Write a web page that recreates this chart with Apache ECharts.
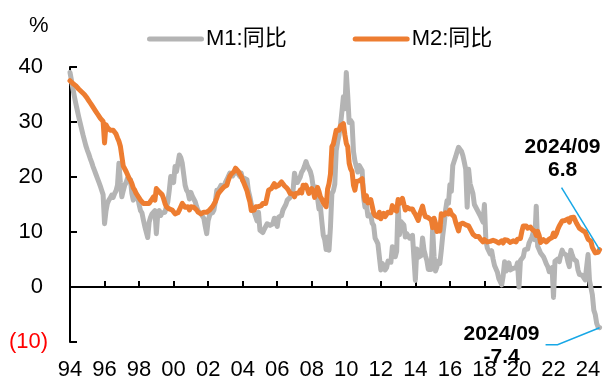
<!DOCTYPE html>
<html>
<head>
<meta charset="utf-8">
<title>M1 / M2 同比</title>
<script src="https://cdn.jsdelivr.net/npm/echarts@6/dist/echarts.min.js"></script>
<style>
  html, body { margin: 0; padding: 0; background: #fff; }
  #chart { width: 604px; height: 385px; }
</style>
</head>
<body>
<div id="chart"></div>
<script>
// Monthly series, January 1994 through September 2024 (% y/y)
const startYear = 1994;

const seriesNames = ['M1:同比', 'M2:同比'];

const m1 = [
  39.0, 37.6, 36.1, 34.7, 33.4, 32.2, 31.0, 29.9, 28.8, 27.7, 26.7, 25.7, // 1994
  24.9, 24.2, 23.4, 22.7, 21.9, 21.2, 20.5, 19.8, 19.1, 18.4, 17.6, 16.8, // 1995
  11.5, 13.8, 15.2, 15.8, 16.2, 16.7, 16.3, 17.0, 17.5, 18.5, 22.5, 19.0, // 1996
  16.4, 17.5, 18.5, 19.0, 19.8, 20.1, 19.5, 17.0, 15.8, 16.5, 17.0, 16.5, // 1997
  15.0, 13.9, 13.5, 12.2, 11.0, 10.9,  9.0, 11.8, 12.7, 13.3, 13.5, 13.9, // 1998
   9.7, 13.3, 13.9, 13.0, 13.5, 13.3, 13.6, 14.6, 15.5, 17.6, 20.1, 19.4, // 1999
  19.0, 21.9, 21.0, 22.5, 24.0, 23.5, 22.5, 20.5, 18.5, 17.6, 17.2, 16.0, // 2000
  17.2, 16.5, 16.4, 15.5, 14.6, 13.9, 13.6, 13.3, 13.0, 12.5, 11.0,  9.7, // 2001
  12.1, 13.0, 13.9, 13.5, 14.0, 15.5, 17.6, 17.0, 18.0, 18.5, 18.8, 18.3, // 2002
  19.0, 19.5, 20.1, 20.7, 20.5, 20.2, 20.5, 21.0, 21.3, 20.5, 20.1, 20.7, // 2003
  19.4, 19.8, 20.1, 19.5, 17.5, 16.4, 15.0, 14.0, 13.6, 13.3, 12.0, 13.6, // 2004
  10.3, 10.3,  9.9, 10.5, 11.0, 11.5, 11.5, 11.2, 11.0, 11.5, 12.5, 12.7, // 2005
  11.0, 12.7, 12.5, 13.0, 14.0, 13.9, 15.0, 15.8, 16.0, 16.3, 16.5, 17.5, // 2006
  20.7, 19.5, 19.0, 19.5, 20.0, 20.9, 21.3, 22.0, 22.8, 22.0, 22.2, 21.0, // 2007
  20.0, 18.2, 18.3, 18.2, 18.0, 14.2, 14.6, 11.9,  9.4,  8.6,  6.8,  9.1, // 2008
   6.7, 10.9, 17.0, 17.5, 18.7, 24.8, 26.4, 27.7, 29.5, 32.0, 34.6, 32.4, // 2009
  39.0, 34.9, 29.9, 30.3, 29.9, 24.6, 22.9, 21.9, 20.9, 22.1, 22.1, 21.2, // 2010
  16.3, 14.5, 15.0, 12.9, 12.7, 13.1, 11.6, 11.2,  8.9,  8.4,  7.8,  7.9, // 2011
   3.1,  4.3,  4.4,  3.1,  3.5,  4.7,  4.6,  4.5,  7.3,  6.1,  5.5,  6.5, // 2012
  15.3,  9.5, 11.9, 11.9, 11.3,  9.1,  9.7,  9.9,  8.9,  8.9,  9.4,  9.3, // 2013
   1.2,  6.9,  5.4,  5.3,  5.7,  8.9,  6.7,  5.7,  4.8,  3.2,  3.2,  3.2, // 2014
  10.6,  5.6,  2.9,  3.7,  4.7,  4.3,  6.6,  9.3, 11.4, 14.0, 15.7, 15.2, // 2015
  18.6, 17.4, 22.1, 22.9, 23.7, 24.6, 25.4, 25.3, 24.7, 23.9, 22.7, 21.4, // 2016
  14.5, 21.4, 18.8, 18.5, 17.0, 15.0, 15.3, 14.0, 14.0, 13.0, 12.7, 11.8, // 2017
  15.0,  8.5,  7.1,  7.2,  6.0,  6.6,  5.1,  3.9,  4.0,  2.7,  1.5,  1.5, // 2018
   0.4,  2.0,  4.6,  2.9,  3.4,  4.4,  3.1,  3.4,  3.4,  3.3,  3.5,  4.4, // 2019
   0.0,  4.8,  5.0,  5.5,  6.8,  6.5,  6.9,  8.0,  8.1,  9.1, 10.0,  8.6, // 2020
  14.7,  7.4,  7.1,  6.2,  6.1,  5.5,  4.9,  4.2,  3.7,  2.8,  3.0,  3.5, // 2021
  -1.9,  4.7,  4.7,  5.1,  4.6,  5.8,  6.7,  6.1,  6.4,  5.8,  4.6,  3.7, // 2022
   6.7,  5.8,  5.1,  5.3,  4.7,  3.1,  2.3,  2.2,  2.1,  1.9,  1.3,  1.3, // 2023
   5.9,  1.2,  1.1, -1.4, -4.2, -5.0, -6.6, -7.3, -7.4                    // 2024
];

const m2 = [
  37.5, 37.2, 37.0, 36.8, 36.6, 36.3, 36.0, 35.8, 35.5, 35.2, 35.0, 34.7, // 1994
  34.3, 33.9, 33.5, 33.1, 32.7, 32.3, 31.9, 31.5, 31.1, 30.7, 30.4, 30.1, // 1995
  26.2, 29.5, 29.0, 28.8, 28.5, 28.3, 28.5, 28.3, 27.8, 27.1, 26.5, 25.6, // 1996
  25.3, 22.0, 21.9, 21.0, 20.7, 19.8, 19.4, 18.8, 18.0, 17.6, 17.0, 17.3, // 1997
  16.2, 15.8, 15.5, 15.2, 15.0, 15.2, 14.9, 15.2, 15.6, 16.0, 16.4, 15.8, // 1998
  17.9, 17.6, 17.3, 17.3, 16.8, 16.1, 15.2, 14.6, 14.5, 14.2, 14.0, 14.0, // 1999
  13.8, 13.3, 13.3, 13.5, 14.0, 14.6, 15.2, 14.9, 14.5, 14.3, 14.6, 14.0, // 2000
  14.6, 14.3, 14.5, 14.3, 14.0, 13.6, 13.5, 13.3, 13.3, 13.6, 13.9, 13.6, // 2001
  13.6, 14.0, 14.3, 14.6, 14.6, 15.5, 16.2, 17.0, 17.2, 17.6, 17.9, 18.2, // 2002
  17.9, 18.5, 19.4, 20.1, 20.5, 20.8, 21.0, 21.6, 21.3, 21.0, 20.5, 20.1, // 2003
  19.4, 18.8, 18.5, 17.5, 16.4, 15.5, 13.9, 14.2, 14.0, 14.6, 14.3, 14.6, // 2004
  14.6, 14.8, 15.2, 15.2, 15.2, 15.5, 17.6, 17.8, 17.9, 18.2, 18.8, 18.2, // 2005
  18.2, 18.5, 18.8, 19.1, 19.0, 18.4, 18.2, 17.9, 17.5, 17.0, 16.8, 16.9, // 2006
  16.4, 17.0, 17.3, 17.1, 17.6, 17.1, 18.5, 18.1, 18.5, 18.5, 17.0, 16.7, // 2007
  17.9, 17.5, 16.3, 16.9, 18.1, 17.4, 16.4, 16.0, 15.3, 15.0, 14.6, 17.8, // 2008
  18.8, 20.5, 25.5, 26.0, 25.7, 28.5, 28.4, 28.5, 29.3, 29.4, 29.7, 27.7, // 2009
  26.1, 25.5, 22.5, 21.5, 21.0, 18.5, 17.6, 19.2, 19.0, 19.3, 19.5, 19.7, // 2010
  17.2, 15.7, 16.6, 15.3, 15.1, 15.9, 14.7, 13.5, 13.0, 12.9, 12.7, 13.6, // 2011
  12.4, 13.0, 13.4, 12.8, 13.2, 13.6, 13.9, 13.5, 14.8, 14.1, 13.9, 13.8, // 2012
  15.9, 15.2, 15.7, 16.1, 15.8, 14.0, 14.5, 14.7, 14.2, 14.3, 14.2, 13.6, // 2013
  13.2, 13.3, 12.1, 13.2, 13.4, 14.7, 13.5, 12.8, 12.9, 12.6, 12.3, 12.2, // 2014
  10.8, 12.5, 11.6, 10.1, 10.8, 10.2, 13.3, 13.3, 13.1, 13.5, 13.7, 13.3, // 2015
  14.0, 13.3, 13.4, 12.8, 11.8, 11.8, 10.2, 11.4, 11.5, 11.6, 11.4, 11.3, // 2016
  11.3, 11.1, 10.6, 10.5,  9.6,  9.4,  9.2,  8.9,  9.2,  8.8,  9.1,  8.2, // 2017
   8.6,  8.8,  8.2,  8.3,  8.3,  8.0,  8.5,  8.2,  8.3,  8.0,  8.0,  8.1, // 2018
   8.4,  8.0,  8.6,  8.5,  8.5,  8.5,  8.1,  8.2,  8.4,  8.4,  8.2,  8.7, // 2019
   8.4,  8.8, 10.1, 11.1, 11.1, 11.1, 10.7, 10.4, 10.9, 10.5, 10.7, 10.1, // 2020
   9.4, 10.1,  9.4,  8.1,  8.3,  8.6,  8.3,  8.2,  8.3,  8.7,  8.5,  9.0, // 2021
   9.8,  9.2,  9.7, 10.5, 11.1, 11.4, 12.0, 12.2, 12.1, 11.8, 12.4, 11.8, // 2022
  12.6, 12.9, 12.7, 12.4, 11.6, 11.3, 10.7, 10.6, 10.3, 10.3, 10.0,  9.7, // 2023
   8.7,  8.7,  8.3,  7.2,  7.0,  6.2,  6.3,  6.3,  6.8                    // 2024
];

// Axis ticks and their labels
const xTickYears  = [1994, 1996, 1998, 2000, 2002, 2004, 2006, 2008, 2010, 2012, 2014, 2016, 2018, 2020, 2022, 2024];
const xTickLabels = ['94', '96', '98', '00', '02', '04', '06', '08', '10', '12', '14', '16', '18', '20', '22', '24'];
const yTicks = [-10, 0, 10, 20, 30, 40];

const lastPeriod = '2024/09';

const FONT = 'Arial, "Liberation Sans", "Noto Sans CJK SC", sans-serif';
const GREY = '#B4B4B4';
const ORANGE = '#ED7D31';
const LEADER = '#17A7E6';

// month index -> decimal year on the value axis
function toPoints(values) {
  return values.map((v, i) => [startYear + i / 12, v]);
}

const chart = echarts.init(document.getElementById('chart'), null, { renderer: 'canvas' });

const option = {
  animation: false,
  backgroundColor: '#ffffff',
  textStyle: { fontFamily: FONT, color: '#000' },
  title: {
    text: '%',
    left: 24,
    top: 10,
    textStyle: { fontFamily: FONT, fontSize: 22, fontWeight: 'normal', color: '#000' }
  },
  legend: {
    left: 142,
    top: 23,
    itemWidth: 57,
    itemHeight: 5,
    itemGap: 66,
    icon: 'path://M2.5,0H54.5A2.5,2.5,0,0,1,54.5,5H2.5A2.5,2.5,0,0,1,2.5,0Z',
    textStyle: { fontFamily: FONT, fontSize: 22, color: '#000', padding: [0, 0, 0, -3] },
    data: seriesNames
  },
  grid: {
    left: 70,
    right: 3,
    top: 67,
    bottom: 43,
    containLabel: false,
    outerBoundsMode: 'none'
  },
  xAxis: [
    {
      // axis line and ticks, drawn along zero
      type: 'value',
      min: 1994,
      max: 2024.75,
      interval: 2,
      axisLine: { show: true, onZero: true, lineStyle: { color: '#000', width: 2 } },
      axisTick: { show: true, inside: true, length: 6, customValues: xTickYears, lineStyle: { color: '#000', width: 2 } },
      axisLabel: { show: false },
      splitLine: { show: false }
    },
    {
      // year labels along the bottom edge
      type: 'value',
      position: 'bottom',
      min: 1994,
      max: 2024.75,
      interval: 2,
      axisLine: { show: false, onZero: false },
      axisTick: { show: false },
      splitLine: { show: false },
      axisLabel: {
        show: true,
        margin: 17,
        fontSize: 22,
        fontFamily: FONT,
        color: '#000',
        customValues: xTickYears,
        formatter: function (v) {
          const k = xTickYears.indexOf(Math.round(v));
          return k >= 0 ? xTickLabels[k] : '';
        }
      }
    }
  ],
  yAxis: {
    type: 'value',
    min: -10,
    max: 40,
    interval: 10,
    axisLine: { show: true, lineStyle: { color: '#000', width: 2 } },
    axisTick: { show: true, inside: true, length: 7, lineStyle: { color: '#000', width: 2 } },
    splitLine: { show: false },
    axisLabel: {
      margin: 22,
      fontSize: 22,
      fontFamily: FONT,
      customValues: yTicks,
      formatter: function (v) {
        return v < 0 ? '{neg|(' + (-v) + ')}' : '{pos|' + v + '}';
      },
      rich: {
        neg: { color: '#FF0000', fontSize: 22, fontFamily: FONT },
        pos: { color: '#000000', fontSize: 22, fontFamily: FONT, padding: [0, 5, 0, 0] }
      }
    }
  },
  series: [
    {
      name: seriesNames[0],
      type: 'line',
      xAxisIndex: 0,
      data: toPoints(m1),
      symbol: 'none',
      color: GREY,
      lineStyle: { color: GREY, width: 5, cap: 'round', join: 'round' },
      z: 2
    },
    {
      name: seriesNames[1],
      type: 'line',
      xAxisIndex: 0,
      data: toPoints(m2),
      symbol: 'none',
      color: ORANGE,
      lineStyle: { color: ORANGE, width: 5, cap: 'round', join: 'round' },
      z: 3
    }
  ]
};

chart.setOption(option);

// Call-outs for the latest month of each series, anchored on the data point
function callouts() {
  const i1 = m1.length - 1;
  const i2 = m2.length - 1;
  const p1 = chart.convertToPixel({ seriesIndex: 0 }, toPoints(m1)[i1]);
  const p2 = chart.convertToPixel({ seriesIndex: 1 }, toPoints(m2)[i2]);
  const textStyle = {
    font: 'bold 21px ' + FONT,
    fill: '#000',
    align: 'center',
    verticalAlign: 'middle',
    lineHeight: 23
  };
  return [
    {
      type: 'polyline',
      z: 10,
      shape: { points: [[p2[0] - 38, p2[1] - 62], [p2[0], p2[1]]] },
      style: { stroke: LEADER, lineWidth: 1.5, fill: null }
    },
    {
      type: 'text',
      z: 10,
      x: p2[0] - 37,
      y: p2[1] - 91,
      style: Object.assign({ text: lastPeriod + '\n' + m2[i2].toFixed(1) }, textStyle)
    },
    {
      type: 'polyline',
      z: 10,
      shape: { points: [[p1[0] - 54, p1[1] + 17], [p1[0] - 42, p1[1] + 17], [p1[0], p1[1]]] },
      style: { stroke: LEADER, lineWidth: 1.5, fill: null }
    },
    {
      type: 'text',
      z: 1,
      x: p1[0] - 98,
      y: p1[1] + 18,
      style: Object.assign({ text: lastPeriod + '\n' + m1[i1].toFixed(1) }, textStyle)
    }
  ];
}

chart.setOption({ graphic: callouts() });
</script>
</body>
</html>
